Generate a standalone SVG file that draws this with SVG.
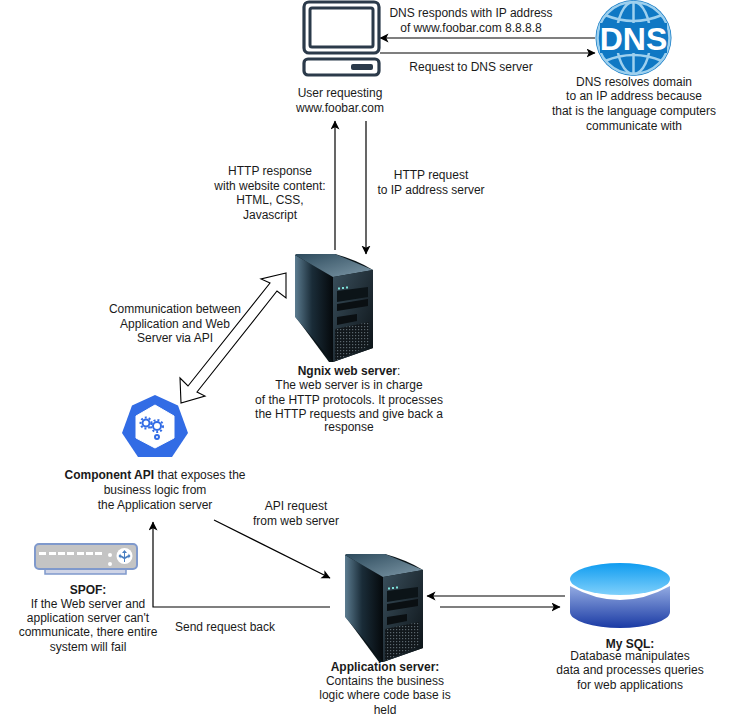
<svg xmlns="http://www.w3.org/2000/svg" width="731" height="724" viewBox="0 0 731 724">
<style>
text{font-family:"Liberation Sans",Arial,sans-serif;font-size:12px;fill:#1a1a1a;text-anchor:middle}
.b{font-weight:bold}
.c{fill:none;stroke:#000;stroke-width:1.2}
.a{marker-end:url(#ah)}
</style>
<defs>
<marker id="ah" markerUnits="userSpaceOnUse" markerWidth="10" markerHeight="10" refX="8.5" refY="4.5" orient="auto"><path d="M0 0L9 4.5L0 9L2.2 4.5Z" fill="#000"/></marker>
<linearGradient id="top" x1="0" y1="0" x2="1" y2="1"><stop offset="0" stop-color="#2c4a5c"/><stop offset="1" stop-color="#7f99a8"/></linearGradient>
<linearGradient id="side" x1="0" y1="0" x2="1" y2="0"><stop offset="0" stop-color="#5c7c90"/><stop offset=".45" stop-color="#1a2c38"/><stop offset="1" stop-color="#05090c"/></linearGradient>
<linearGradient id="front" x1="0" y1="0" x2="1" y2="1"><stop offset="0" stop-color="#3a4f5c"/><stop offset="1" stop-color="#0a1014"/></linearGradient>
<pattern id="mesh" width="3" height="3" patternUnits="userSpaceOnUse"><rect width="3" height="3" fill="#11171b"/><rect width="1.2" height="1.2" fill="#5a666d"/></pattern>
<linearGradient id="dbt" x1="0" y1="0" x2="0" y2="1"><stop offset="0" stop-color="#0f9cf0"/><stop offset="1" stop-color="#7fd0fb"/></linearGradient>
<linearGradient id="dbb" x1="0" y1="0" x2="0" y2="1"><stop offset="0" stop-color="#93abe2"/><stop offset="1" stop-color="#1a3aa4"/></linearGradient>
<g id="srv">
<path d="M0 1L2 0L40 0Q62 6 78 16L78 94L38 108L34 108L0 62Z" fill="#0a1418"/>
<path d="M0 1L38 23L38 108L0 63Z" fill="url(#side)"/>
<path d="M0 1L2 0L40 0L78 16L38 23Z" fill="url(#top)"/>
<path d="M38 23L78 16L78 94L38 108Z" fill="url(#front)"/>
<path d="M42 37L73 33L73 43L42 48Z" fill="#0c1418"/>
<path d="M42 50L73 45L73 52L42 57Z" fill="#0a0f12"/>
<path d="M42 63L62 60L62 67L42 71Z" fill="#0a0f12"/>
<path d="M40 75L74 68L74 92L40 107Z" fill="url(#mesh)"/>
<rect x="43" y="33.500" width="2" height="2" fill="#7de0d8"/><rect x="47" y="33" width="2" height="2" fill="#7de0d8"/><rect x="51" y="32.500" width="2" height="2" fill="#7de0d8"/>
</g>
</defs>

<g id="connectors">
<path class="c a" d="M595 38H380"/>
<path class="c a" d="M380 53H595"/>
<path class="c a" d="M335 250V121"/>
<path class="c a" d="M366 121V254"/>
<path d="M286 273L261 279L270 283L188 386L180 378L181 403L205 396L197 392L277 291L286 298Z" fill="#fff" stroke="#000" stroke-width="1.100"/>
<path class="c a" d="M214 520L330 578"/>
<path class="c a" d="M330 607H153V522"/>
<path class="c a" d="M565 596H427"/>
<path class="c a" d="M440 607H560"/>
</g>

<g id="user">
<rect x="304" y="2" width="75" height="51" rx="5" fill="#fff" stroke="#2b3a4a" stroke-width="3.200"/>
<rect x="310" y="8" width="63" height="39" rx="2" fill="#fff" stroke="#2b3a4a" stroke-width="3"/>
<rect x="304" y="59" width="75" height="16" rx="4" fill="#fff" stroke="#2b3a4a" stroke-width="3.200"/>
<rect x="351" y="64" width="22" height="6" rx="2" fill="#2b3a4a"/>
<text x="340" y="97">User requesting</text>
<text x="340" y="112">www.foobar.com</text>
</g>

<g id="dns">
<circle cx="633.500" cy="38" r="38" fill="#0f78c4"/>
<circle cx="633.500" cy="38" r="36" fill="none" stroke="#9ed0ee" stroke-width="2.500"/>
<g fill="none" stroke="#9ed0ee" stroke-width="2.500">
<ellipse cx="633.500" cy="38" rx="17" ry="36"/>
<path d="M633.500 2V74"/>
<path d="M605 15Q633.500 27 662 15M605 61Q633.500 49 662 61"/>
</g>
<rect x="600" y="23" width="67" height="30" fill="#0f78c4"/>
<text x="633.500" y="50" style="font-size:32px;font-weight:bold;fill:#fff">DNS</text>
<text x="634" y="86">DNS resolves domain</text>
<text x="634" y="100">to an IP address because</text>
<text x="634" y="115">that is the language computers</text>
<text x="634" y="130">communicate with</text>
</g>

<g id="web-server">
<use href="#srv" x="295" y="254"/>
<text x="349" y="375"><tspan class="b">Ngnix web server</tspan>:</text>
<text x="349" y="389">The web server is in charge</text>
<text x="349" y="404">of the HTTP protocols. It processes</text>
<text x="349" y="418">the HTTP requests and give back a</text>
<text x="349" y="431">response</text>
</g>

<g id="api">
<path d="M155 395L178 405.500L188 433L172 457H138L122 433L132 405.500Z" fill="#326ce5"/>
<path d="M155 406L174 417V439L155 449L136 439V417Z" fill="#fff" stroke="#fff" stroke-linejoin="round" transform="translate(0 -1)"/>
<g fill="none" stroke="#326ce5" stroke-width="2">
<circle cx="157" cy="426" r="4"/><circle cx="146" cy="423" r="3.500"/><circle cx="157" cy="437" r="2"/>
<circle cx="157" cy="426" r="6" stroke-dasharray="2 2"/><circle cx="146" cy="423" r="5.500" stroke-dasharray="2 2"/>
</g>
<text x="155" y="445" style="font-size:9px;fill:#fff">api</text>
<text x="155" y="479"><tspan class="b">Component API</tspan> that exposes the</text>
<text x="155" y="494">business logic from</text>
<text x="155" y="509">the Application server</text>
</g>

<g id="spof">
<rect x="45" y="566" width="81" height="8" fill="#cfd4e6" stroke="#7f99cc" stroke-width="1.500"/>
<rect x="35" y="544" width="102" height="25" rx="4" fill="#c4c4c4" stroke="#7f99cc" stroke-width="2"/>
<g fill="#fff"><rect x="39" y="552" width="7" height="3"/><rect x="49" y="552" width="7" height="3"/><rect x="58" y="552" width="7" height="3"/><rect x="67" y="552" width="7" height="3"/><rect x="77" y="552" width="7" height="3"/><rect x="86" y="552" width="7" height="3"/><rect x="95" y="552" width="7" height="3"/>
<circle cx="110" cy="555" r="2"/><circle cx="110" cy="564" r="2"/><circle cx="124.500" cy="556" r="8"/></g>
<path d="M124.500 550L122 553H124V557L120.500 555V553.500L118.500 556L120.500 558.500V557L124 559V562H125V559L128.500 557V558.500L130.500 556L128.500 553.500V555L125 557V553H127Z" fill="#4a7fc1"/>
<text class="b" x="88" y="594">SPOF:</text>
<text x="88" y="608">If the Web server and</text>
<text x="88" y="622">application server can't</text>
<text x="88" y="636">communicate, there entire</text>
<text x="88" y="651">system will fail</text>
</g>

<g id="app-server">
<use href="#srv" x="345" y="554"/>
<text class="b" x="385" y="671">Application server:</text>
<text x="385" y="685">Contains the business</text>
<text x="385" y="699">logic where code base is</text>
<text x="385" y="714">held</text>
</g>

<g id="db">
<path d="M570 586Q595 600 620 600T670 586V612A50 16 0 0 1 570 612Z" fill="url(#dbb)"/>
<ellipse cx="620" cy="579" rx="50" ry="16" fill="url(#dbt)"/>
<text class="b" x="630" y="648">My SQL:</text>
<text x="630" y="660">Database manipulates</text>
<text x="630" y="674">data and processes queries</text>
<text x="630" y="689">for web applications</text>
</g>

<g id="labels">
<text x="471" y="17">DNS responds with IP address</text>
<text x="471" y="32">of www.foobar.com 8.8.8.8</text>
<text x="471" y="71">Request to DNS server</text>
<text x="270" y="175">HTTP response</text>
<text x="270" y="190">with website content:</text>
<text x="270" y="204">HTML, CSS,</text>
<text x="270" y="219">Javascript</text>
<text x="431" y="179">HTTP request</text>
<text x="431" y="194">to IP address server</text>
<text x="175" y="313">Communication between</text>
<text x="175" y="328">Application and Web</text>
<text x="175" y="342">Server via API</text>
<text x="296" y="510">API request</text>
<text x="296" y="525">from web server</text>
<text x="225" y="631">Send request back</text>
</g>
</svg>
